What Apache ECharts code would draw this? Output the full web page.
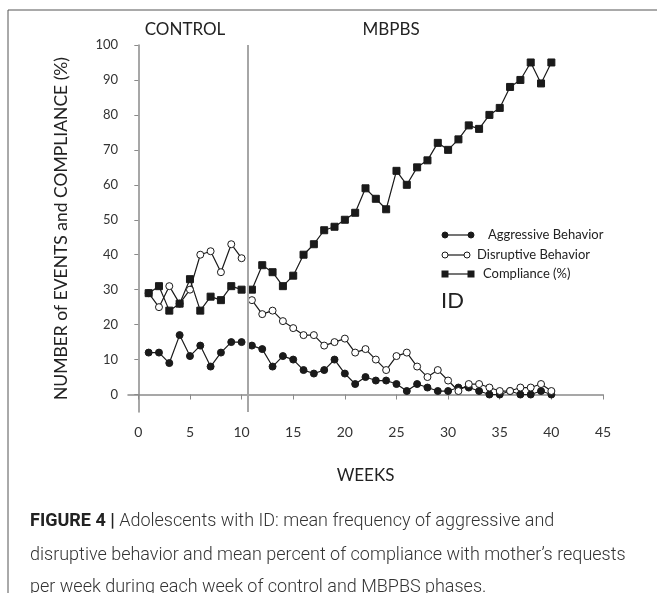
<!DOCTYPE html>
<html>
<head>
<meta charset="utf-8">
<script src="https://cdn.jsdelivr.net/npm/echarts@6/dist/echarts.min.js"></script>
<style>
  html, body { margin: 0; padding: 0; background: #fff; }
  #chart { width: 657px; height: 593px; }
</style>
</head>
<body>
<div id="chart"></div>
<script>
// weeks 1..40, control phase is weeks 1-10, MBPBS from week 11
const weeks = [1, 2, 3, 4, 5, 6, 7, 8, 9, 10,
  11, 12, 13, 14, 15, 16, 17, 18, 19, 20,
  21, 22, 23, 24, 25, 26, 27, 28, 29, 30,
  31, 32, 33, 34, 35, 36, 37, 38, 39, 40];
const aggressive = [12, 12, 9, 17, 11, 14, 8, 12, 15, 15,
  14, 13, 8, 11, 10, 7, 6, 7, 10, 6,
  3, 5, 4, 4, 3, 1, 3, 2, 1, 1,
  2, 2, 1, 0, 0, 1, 0, 0, 1, 0];
const disruptive = [29, 25, 31, 26, 30, 40, 41, 35, 43, 39,
  27, 23, 24, 21, 19, 17, 17, 14, 15, 16,
  12, 13, 10, 7, 11, 12, 8, 5, 7, 4,
  1, 3, 3, 2, 1, 1, 2, 2, 3, 1];
const compliance = [29, 31, 24, 26, 33, 24, 28, 27, 31, 30,
  30, 37, 35, 31, 34, 40, 43, 47, 48, 50,
  52, 59, 56, 53, 64, 60, 65, 67, 72, 70,
  73, 77, 76, 80, 82, 88, 90, 95, 89, 95];
const lastControlWeek = 10;
const phaseLine = 10.6;
const xTicks = [0, 5, 10, 15, 20, 25, 30, 35, 40, 45];
const yTicks = [0, 10, 20, 30, 40, 50, 60, 70, 80, 90, 100];

const chartFont = 'Lato, "Open Sans", sans-serif';
const captionFont = 'Roboto, "Liberation Sans", sans-serif';
const ink = '#1a1a1a';

// pair weeks with values, leaving a gap between the two phases
function toData(values) {
  const out = [];
  weeks.forEach((w, i) => {
    out.push([w, values[i]]);
    if (w === lastControlWeek) out.push([w + 0.5, '-']);
  });
  return out;
}

function lineSeries(name, values, symbol, size, fill) {
  return {
    name: name,
    type: 'line',
    data: toData(values),
    symbol: symbol,
    symbolSize: size,
    showAllSymbol: true,
    connectNulls: false,
    lineStyle: { color: ink, width: 1.2 },
    itemStyle: { color: fill, borderColor: ink, borderWidth: 1 },
    emphasis: { disabled: true },
    z: 3
  };
}

// hand-made legend entries (line with a marker at each end, like the original)
function legendRow(y, shape, fill, label, x2, textX) {
  const els = [
    { type: 'line', shape: { x1: 445, y1: y, x2: x2, y2: y }, style: { stroke: ink, lineWidth: 1.2 } }
  ];
  [445, x2].forEach(cx => {
    if (shape === 'rect') {
      els.push({ type: 'rect', shape: { x: cx - 3.5, y: y - 3.5, width: 7, height: 7 }, style: { fill: ink } });
    } else {
      els.push({ type: 'circle', shape: { cx: cx, cy: y, r: 3 }, style: { fill: fill, stroke: ink, lineWidth: 1 } });
    }
  });
  els.push({
    type: 'text', x: textX, y: y,
    style: { text: label, font: '13px ' + chartFont, fill: '#222', verticalAlign: 'middle' }
  });
  return els;
}

const chart = echarts.init(document.getElementById('chart'));

chart.setOption({
  animation: false,
  backgroundColor: '#fff',
  grid: { left: 128, right: 54, top: 45, bottom: 181 },
  xAxis: {
    type: 'value',
    min: -1,
    max: 45,
    name: 'WEEKS',
    nameLocation: 'middle',
    nameGap: 55,
    nameTextStyle: { fontFamily: chartFont, fontSize: 17, color: '#222' },
    splitLine: { show: false },
    axisLine: { lineStyle: { color: '#8a8a8a', width: 1.5 } },
    axisTick: { customValues: xTicks, length: 5, lineStyle: { color: '#8a8a8a' } },
    axisLabel: { customValues: xTicks, margin: 13, fontFamily: chartFont, fontSize: 14, color: '#333' }
  },
  yAxis: {
    type: 'value',
    min: -5,
    max: 100,
    name: 'NUMBER of EVENTS and COMPLIANCE (%)',
    nameLocation: 'middle',
    nameGap: 58,
    nameTextStyle: { fontFamily: chartFont, fontSize: 17.5, color: '#222' },
    splitLine: { show: false },
    axisLine: { show: true, lineStyle: { color: '#8a8a8a', width: 1.5 } },
    axisTick: { show: true, customValues: yTicks, length: 4, inside: false, lineStyle: { color: '#8a8a8a' } },
    axisLabel: { customValues: yTicks, margin: 10, fontFamily: chartFont, fontSize: 13, color: '#333' }
  },
  series: [
    Object.assign(lineSeries('Aggressive Behavior', aggressive, 'circle', 7, ink), {
      markLine: {
        silent: true,
        symbol: 'none',
        label: { show: false },
        lineStyle: { color: '#a6a6a6', width: 2, type: 'solid' },
        data: [{ xAxis: phaseLine }]
      }
    }),
    lineSeries('Disruptive Behavior', disruptive, 'circle', 7, '#fff'),
    lineSeries('Compliance (%)', compliance, 'rect', 7, ink)
  ],
  graphic: [
    // figure frame
    { type: 'rect', shape: { x: 8, y: 10, width: 700, height: 640 }, style: { fill: 'none', stroke: '#555', lineWidth: 1 }, silent: true },
    { type: 'text', x: 185, y: 30, style: { text: 'CONTROL', font: '17px ' + chartFont, fill: '#222', align: 'center', verticalAlign: 'middle' } },
    { type: 'text', x: 391, y: 30, style: { text: 'MBPBS', font: '17px ' + chartFont, fill: '#222', align: 'center', verticalAlign: 'middle' } },
    ...legendRow(235, 'circle', ink, 'Aggressive Behavior', 471, 488),
    ...legendRow(255, 'circle', '#fff', 'Disruptive Behavior', 467, 477),
    ...legendRow(274, 'rect', ink, 'Compliance (%)', 471, 483),
    { type: 'text', x: 441, y: 301, style: { text: 'ID', font: '22px ' + chartFont, fill: '#222', verticalAlign: 'middle' } },
    // caption
    {
      type: 'text', x: 30, y: 521,
      style: {
        text: '{b|FIGURE 4 |} Adolescents with ID: mean frequency of aggressive and',
        font: '300 18px ' + captionFont,
        fill: '#333', verticalAlign: 'middle',
        rich: { b: { fontWeight: 'bold', fontSize: 18, fontFamily: captionFont, fill: '#222' } }
      }
    },
    { type: 'text', x: 30, y: 555, style: { text: 'disruptive behavior and mean percent of compliance with mother\u2019s requests', font: '300 18px ' + captionFont, fill: '#333', verticalAlign: 'middle' } },
    { type: 'text', x: 30, y: 587, style: { text: 'per week during each week of control and MBPBS phases.', font: '300 18px ' + captionFont, fill: '#333', verticalAlign: 'middle' } }
  ]
});
</script>
</body>
</html>
